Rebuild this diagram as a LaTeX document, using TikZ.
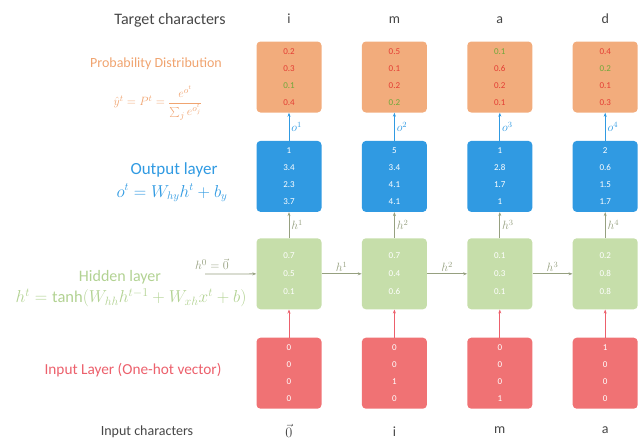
\documentclass[tikz,border=0pt]{standalone}
\usepackage{fontspec}
\setmainfont{Carlito}
\usepackage{tikz}
\usetikzlibrary{positioning}
\usetikzlibrary{arrows.meta}

\definecolor{probfill}{RGB}{242,172,124}
\definecolor{probred}{RGB}{228,62,52}
\definecolor{probgreen}{RGB}{112,168,58}
\definecolor{outfill}{RGB}{48,154,226}
\definecolor{hidfill}{RGB}{198,222,170}
\definecolor{infill}{RGB}{240,114,116}
\definecolor{probtxt}{RGB}{240,164,112}
\definecolor{hidtxt}{RGB}{178,210,146}
\definecolor{intxt}{RGB}{236,96,108}
\definecolor{chartxt}{RGB}{70,70,70}
\definecolor{hidline}{RGB}{150,160,128}

\newcommand{\miss}[1]{\textcolor{probred}{#1}}
\newcommand{\hit}[1]{\textcolor{probgreen}{#1}}

\tikzset{
	cell/.style={rounded corners=4pt, minimum width=65pt, minimum height=71pt,
		inner sep=0pt, align=center, text=white, font=\fontsize{9}{17}\selectfont},
	probcell/.style={cell, fill=probfill},
	outcell/.style={cell, fill=outfill},
	hidcell/.style={cell, fill=hidfill, font=\fontsize{9}{18}\selectfont},
	incell/.style={cell, fill=infill},
	charlbl/.style={text=chartxt, font=\fontsize{14}{16}\selectfont},
	toinput/.style={-{Stealth[length=4pt]}, draw=intxt, thick},
	tohidden/.style={-{Stealth[length=4pt]}, draw=hidline, thick},
	tooutput/.style={-{Stealth[length=4pt]}, draw=outfill, thick},
	arrowlbl/.style={font=\fontsize{12}{13}\selectfont, inner sep=2pt},
}

\begin{document}
\begin{tikzpicture}[x=1pt, y=-1pt]
	\useasboundingbox (0,0) rectangle (643,445);
	%% probability row
	\node[probcell] (p1) at (289,77) {\miss{0.2}\\\miss{0.3}\\\hit{0.1}\\\miss{0.4}};
	\node[probcell, right = 40pt of p1] (p2) {\miss{0.5}\\\miss{0.1}\\\miss{0.2}\\\hit{0.2}};
	\node[probcell, right = 40pt of p2] (p3) {\hit{0.1}\\\miss{0.6}\\\miss{0.2}\\\miss{0.1}};
	\node[probcell, right = 40pt of p3] (p4) {\miss{0.4}\\\hit{0.2}\\\miss{0.1}\\\miss{0.3}};
	%% output row
	\node[outcell, below = 28pt of p1] (o1) {1\\3.4\\2.3\\3.7};
	\node[outcell, below = 28pt of p2] (o2) {5\\3.4\\4.1\\4.1};
	\node[outcell, below = 28pt of p3] (o3) {1\\2.8\\1.7\\1};
	\node[outcell, below = 28pt of p4] (o4) {2\\0.6\\1.5\\1.7};
	%% hidden row
	\node[hidcell, below = 26pt of o1] (h1) {0.7\\0.5\\0.1};
	\node[hidcell, below = 26pt of o2] (h2) {0.7\\0.4\\0.6};
	\node[hidcell, below = 26pt of o3] (h3) {0.1\\0.3\\0.1};
	\node[hidcell, below = 26pt of o4] (h4) {0.2\\0.8\\0.8};
	%% input row
	\node[incell, below = 28pt of h1] (x1) {0\\0\\0\\0};
	\node[incell, below = 28pt of h2] (x2) {0\\0\\1\\0};
	\node[incell, below = 28pt of h3] (x3) {0\\0\\0\\1};
	\node[incell, below = 28pt of h4] (x4) {1\\0\\0\\0};

	% characters above and below
	\node[charlbl, font=\fontsize{16}{18}\selectfont] (tt) at (170,20) {Target characters};
	\node[charlbl, above = 14pt of p1] (t1) {i};
	\node[charlbl, above = 14pt of p2] (t2) {m};
	\node[charlbl, above = 14pt of p3] (t3) {a};
	\node[charlbl, above = 14pt of p4] (t4) {d};
	\node[charlbl] (ii) at (147,432) {Input characters};
	\node[charlbl, below = 12pt of x1] (i1) {$\vec{0}$};
	\node[charlbl, below = 14pt of x2] (i2) {i};
	\node[charlbl, below = 14pt of x3] (i3) {m};
	\node[charlbl, below = 14pt of x4] (i4) {a};

	% layer names on the left
	\node[text=probtxt, font=\fontsize{14}{16}\selectfont] (pname) at (156,64) {Probability Distribution};
	\node[text=probtxt, font=\fontsize{13}{14}\selectfont] (pform) at (158,103)
		{$\hat{y}^t = P^t = \displaystyle\frac{e^{o^t}}{\sum_j e^{o_j^t}}$};
	\node[text=outfill, font=\fontsize{17}{18}\selectfont] (oname) at (174,170) {Output layer};
	\node[text=outfill, font=\fontsize{16}{17}\selectfont] (oform) at (172,193) {$o^t = W_{hy}h^t + b_y$};
	\node[text=hidtxt, font=\fontsize{16}{18}\selectfont] (hname) at (120,277) {Hidden layer};
	\node[text=hidtxt, font=\fontsize{16.5}{17}\selectfont] (hform) at (131,298)
		{$h^t = \tanh(W_{hh}h^{t-1} + W_{xh}x^t + b)$};
	\node[text=intxt, font=\fontsize{15.3}{17}\selectfont] (xname) at (133,370) {Input Layer (One-hot vector)};

	% initial hidden state
	\coordinate (h0) at (205,274);
	\node[text=hidline, font=\fontsize{13}{14}\selectfont, anchor=south, inner sep=1pt] (h0txt) at (212,271) {$h^0 = \vec{0}$};
	\draw[tohidden] (h0) -- (h1);

	% arrows between rows
	\draw[toinput] (x1) -- (h1);
	\draw[toinput] (x2) -- (h2);
	\draw[toinput] (x3) -- (h3);
	\draw[toinput] (x4) -- (h4);
	\draw[tohidden] (h1) -- node[arrowlbl, right, text=hidline] {$h^1$} (o1);
	\draw[tohidden] (h2) -- node[arrowlbl, right, text=hidline] {$h^2$} (o2);
	\draw[tohidden] (h3) -- node[arrowlbl, right, text=hidline] {$h^3$} (o3);
	\draw[tohidden] (h4) -- node[arrowlbl, right, text=hidline] {$h^4$} (o4);
	\draw[tooutput] (o1) -- node[arrowlbl, right, text=outfill] {$o^1$} (p1);
	\draw[tooutput] (o2) -- node[arrowlbl, right, text=outfill] {$o^2$} (p2);
	\draw[tooutput] (o3) -- node[arrowlbl, right, text=outfill] {$o^3$} (p3);
	\draw[tooutput] (o4) -- node[arrowlbl, right, text=outfill] {$o^4$} (p4);
	\draw[tohidden] (h1) -- node[arrowlbl, above, text=hidline] {$h^1$} (h2);
	\draw[tohidden] (h2) -- node[arrowlbl, above, text=hidline] {$h^2$} (h3);
	\draw[tohidden] (h3) -- node[arrowlbl, above, text=hidline] {$h^3$} (h4);
\end{tikzpicture}
\end{document}
